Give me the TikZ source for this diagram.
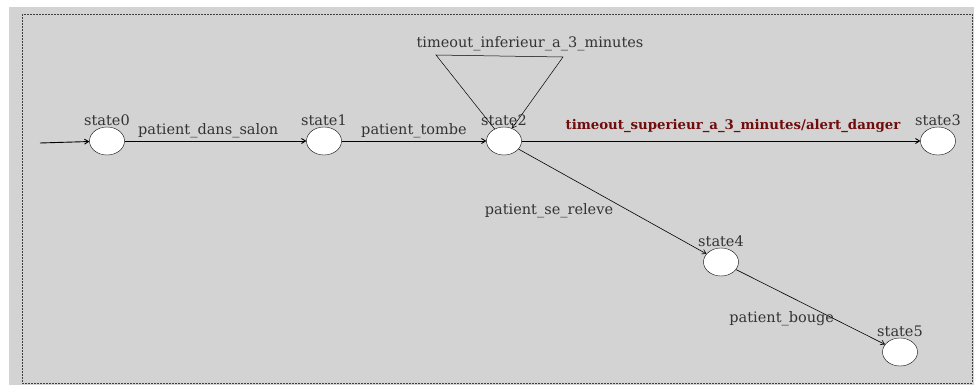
\documentclass[tikz,border=0pt]{standalone}
\usepackage{fontspec}
\setmainfont{DejaVu Serif}
\usetikzlibrary{shapes.geometric,arrows.meta}
\definecolor{bggray}{RGB}{211,211,211}
\definecolor{alertred}{RGB}{112,12,12}
\begin{document}
\begin{tikzpicture}[x=1pt,y=-1pt,
    font=\fontsize{14.5}{17}\selectfont,
    state/.style={ellipse,draw,fill=white,minimum width=35pt,minimum height=28pt,inner sep=0pt,
        label={[inner sep=1pt,text=black!80]above:#1}},
    trans/.style={-{Straight Barb[length=4pt,width=5pt]},line width=0.9pt},
    lbl/.style={inner sep=2.5pt,text=black!80}]

    \useasboundingbox (0,0) rectangle (974,385);
    \fill[bggray] (9,7) rectangle (974,385);
    \draw[black!75,dash pattern=on 2pt off 1pt,line width=0.8pt] (22,14) rectangle (972,383);

    % states
    \node[state=state0] (s0) at (107,141) {};
    \node[state=state1] (s1) at (324,141) {};
    \node[state=state2] (s2) at (504,141) {};
    \node[state=state3] (s3) at (938,141) {};
    \node[state=state4] (s4) at (721,262) {};
    \node[state=state5] (s5) at (900,352) {};

    % transitions
    \coordinate (init) at (40,143);
    \draw[trans] (init) -- (s0);
    \draw[trans] (s0) -- node[lbl,above,pos=0.46] (l01) {patient\_dans\_salon} (s1);
    \draw[trans] (s1) -- node[lbl,above] (l12) {patient\_tombe} (s2);
    \draw[trans] (s2) -- node[lbl,above,pos=0.53,yshift=5pt,text=alertred,font=\fontsize{13.3}{16}\selectfont\bfseries] (l23)
        {timeout\_superieur\_a\_3\_minutes/alert\_danger} (s3);
    \draw[trans,line width=0.6pt] (s2) -- node[lbl,pos=0.51,anchor=north east,inner sep=1pt] (l24) {patient\_se\_releve} (s4);
    \draw[trans,line width=0.6pt] (s4) -- node[lbl,pos=0.66,anchor=east,inner sep=0pt] (l45) {patient\_bouge} (s5);

    % self loop on state2
    \coordinate (lt) at (436,55);
    \coordinate (rt) at (563,57);
    \draw[trans,line width=0.5pt] (s2.128) -- (lt) -- (rt) -- (s2.58);
    \node[lbl] (l22) at (530,44) {timeout\_inferieur\_a\_3\_minutes};

\end{tikzpicture}
\end{document}
